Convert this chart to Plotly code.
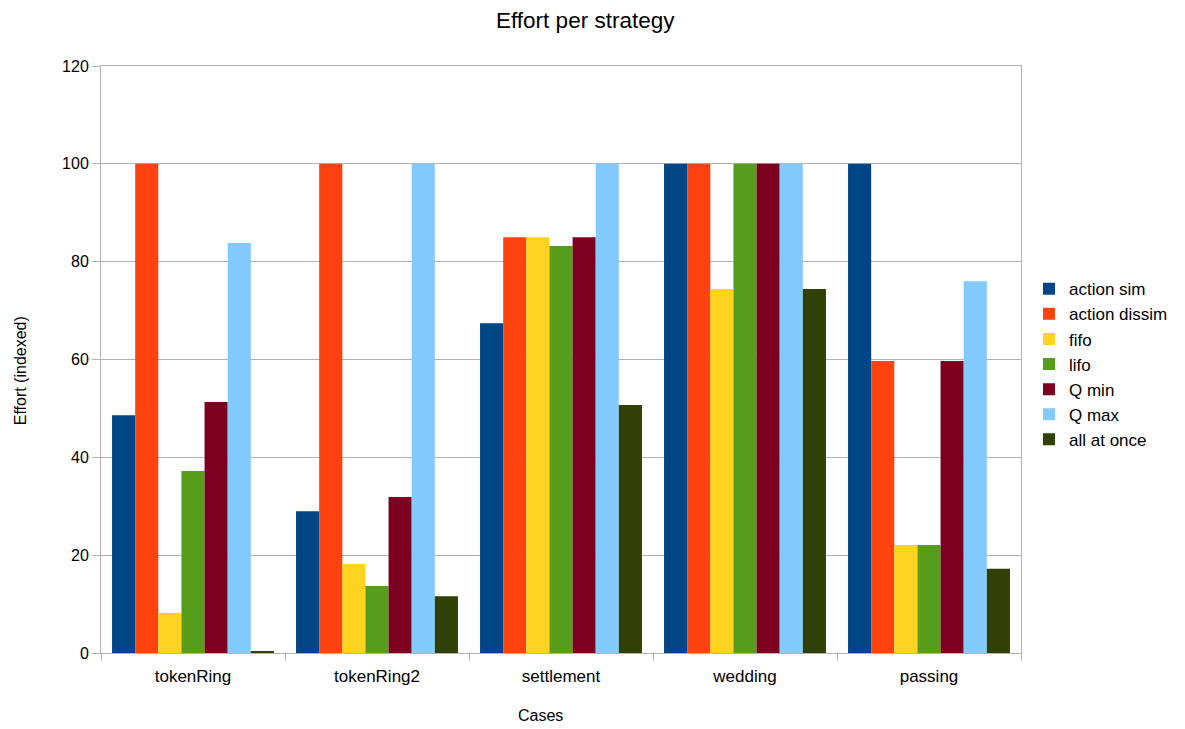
import plotly.graph_objects as go

# Cases on the x axis
cases = ["tokenRing", "tokenRing2", "settlement", "wedding", "passing"]

# Indexed effort per strategy, one list per series
action_sim = [48.6, 29.0, 67.4, 100, 100]
action_dissim = [100, 100, 85.0, 100, 59.7]
fifo = [8.2, 18.2, 85.0, 74.4, 22.1]
lifo = [37.2, 13.7, 83.2, 100, 22.1]
q_min = [51.3, 31.9, 85.0, 100, 59.7]
q_max = [83.8, 100, 100, 100, 76.0]
all_at_once = [0.4, 11.6, 50.7, 74.4, 17.2]

series = [
    ("action sim", action_sim, "#004586"),
    ("action dissim", action_dissim, "#ff420e"),
    ("fifo", fifo, "#ffd320"),
    ("lifo", lifo, "#579d1c"),
    ("Q min", q_min, "#7e0021"),
    ("Q max", q_max, "#83caff"),
    ("all at once", all_at_once, "#314004"),
]

font_family = "Liberation Sans, Arial, sans-serif"

fig = go.Figure()
for name, values, color in series:
    fig.add_trace(go.Bar(
        x=cases, y=values, name=name,
        marker=dict(color=color, line=dict(width=0)),
    ))

grid = "#b3b3b3"

fig.update_layout(
    width=1185, height=729,
    margin=dict(l=101, r=164, t=66, b=76),
    paper_bgcolor="white", plot_bgcolor="white",
    barmode="group", bargap=0.12, bargroupgap=0,
    font=dict(family=font_family, color="#000000"),
    showlegend=True,
    legend=dict(
        x=1.0087, xanchor="left", y=0.492, yanchor="middle",
        font=dict(size=17, family=font_family),
        bgcolor="rgba(0,0,0,0)", itemwidth=30,
    ),
    xaxis=dict(
        showline=True, linecolor=grid, linewidth=1, mirror=True,
        ticks="outside", tickson="boundaries", ticklen=7, tickcolor=grid,
        tickfont=dict(size=17, family=font_family),
        ticklabelstandoff=8,
        showgrid=False,
    ),
    yaxis=dict(
        range=[0, 120], dtick=20,
        showline=True, linecolor=grid, linewidth=1, mirror=True,
        ticks="outside", ticklen=8, tickcolor=grid,
        tickfont=dict(size=16, family=font_family),
        showgrid=True, gridcolor=grid, gridwidth=1,
        zeroline=False,
    ),
    annotations=[
        dict(text="Effort per strategy", x=0.527, y=1.078, xref="paper", yref="paper",
             xanchor="center", yanchor="middle", showarrow=False,
             font=dict(size=22.5, family=font_family)),
        dict(text="Cases", x=0.478, y=-0.107, xref="paper", yref="paper",
             xanchor="center", yanchor="middle", showarrow=False,
             font=dict(size=16, family=font_family)),
        dict(text="Effort (indexed)", x=-0.088, y=0.480, xref="paper", yref="paper",
             xanchor="center", yanchor="middle", showarrow=False, textangle=-90,
             font=dict(size=16, family=font_family)),
    ],
)

fig.write_html("out.html")
